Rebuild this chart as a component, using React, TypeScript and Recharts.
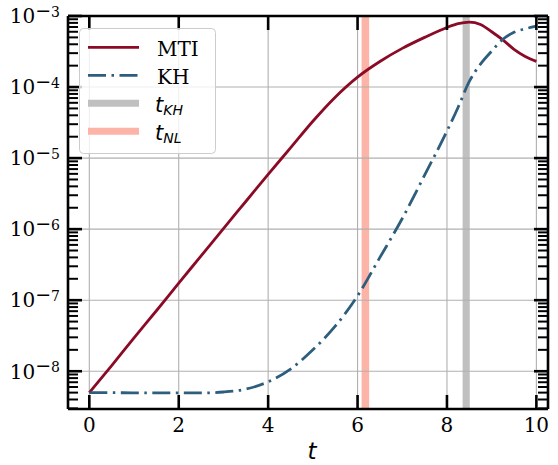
import React from 'react';
import { LineChart, Line, XAxis, YAxis, ReferenceLine, ReferenceArea, Legend } from 'recharts';

// ---- data ----
const T = [0, 0.5, 1, 1.5, 2, 2.5, 3, 3.5, 4, 4.5, 5, 5.5, 6, 6.5, 7, 7.5, 8, 8.25, 8.5, 8.75, 9, 9.25, 9.5, 9.75, 10];
const MTI = [5.0e-9, 1.2e-8, 2.95e-8, 7.1e-8, 1.74e-7, 4.2e-7, 1.02e-6, 2.45e-6, 5.9e-6, 1.39e-5, 3.3e-5, 7.2e-5, 1.38e-4, 2.29e-4, 3.5e-4, 5.0e-4, 6.9e-4, 7.8e-4, 8.2e-4, 7.6e-4, 6.0e-4, 4.6e-4, 3.4e-4, 2.7e-4, 2.3e-4];
const KH = [5.0e-9, 5.0e-9, 4.95e-9, 4.95e-9, 4.95e-9, 4.95e-9, 5.1e-9, 5.6e-9, 7.1e-9, 1.07e-8, 2.0e-8, 4.3e-8, 1.15e-7, 4.0e-7, 1.41e-6, 5.75e-6, 2.4e-5, 5.2e-5, 1.2e-4, 2.1e-4, 3.2e-4, 4.7e-4, 5.9e-4, 6.6e-4, 7.2e-4];

const T_KH_BAND = [8.35, 8.51];
const T_NL_BAND = [6.09, 6.26];

const X_TICKS = [0, 2, 4, 6, 8, 10];
const Y_MAJOR = [1e-8, 1e-7, 1e-6, 1e-5, 1e-4, 1e-3];
const X_DOMAIN = [-0.477, 10.26];
const Y_DOMAIN = [2.94e-9, 1e-3];

const LEGEND_ITEMS = ['MTI', 'KH', 't_KH', 't_NL'];
const X_LABEL = 't';

const MTI_COLOR = '#8b0a26';
const KH_COLOR = '#2d5e7d';
const GRAY_BAND = '#c0c0c0';
const SALMON_BAND = '#fcb3a8';
const GRID = '#b0b0b0';

const data = T.map((t, i) => ({ t, mti: MTI[i], kh: KH[i] }));

const Y_TICKS: number[] = (() => {
  const out: number[] = [];
  for (let k = -9; k <= -3; k++) {
    for (let m = 1; m <= 9; m++) {
      const v = m * Math.pow(10, k);
      if (v >= Y_DOMAIN[0] && v <= Y_DOMAIN[1] * 1.0000001) out.push(v);
    }
  }
  return out;
})();

const isMajor = (v: number) => Y_MAJOR.some((m) => Math.abs(v / m - 1) < 1e-6);

const LeftTick = (props: any) => {
  const { x, y, payload } = props;
  const v = payload.value;
  const major = isMajor(v);
  const exp = Math.round(Math.log10(v));
  return (
    <g>
      <line x1={x} y1={y} x2={x + (major ? 14 : 10)} y2={y} stroke="#000" strokeWidth={major ? 2.6 : 2} />
      {major && (
        <text x={x - 8} y={y + 7.3} textAnchor="end" fontFamily="DejaVu Serif" fontSize={20} fill="#000">
          10
          <tspan dy={-6.6} fontFamily="DejaVu Sans" fontSize={19}>−</tspan>
          <tspan fontFamily="DejaVu Serif" fontSize={14}>{Math.abs(exp)}</tspan>
        </text>
      )}
    </g>
  );
};

const RightTick = (props: any) => {
  const { x, y, payload } = props;
  const major = isMajor(payload.value);
  return <line x1={x} y1={y} x2={x - (major ? 14 : 10)} y2={y} stroke="#000" strokeWidth={major ? 2.6 : 2} />;
};

const BottomTick = (props: any) => {
  const { x, y, payload } = props;
  return (
    <g>
      <line x1={x} y1={y} x2={x} y2={y - 14} stroke="#000" strokeWidth={2.6} />
      <text x={x} y={y + 23} textAnchor="middle" fontFamily="DejaVu Serif" fontSize={20} fill="#000">
        {payload.value}
      </text>
    </g>
  );
};

const TopTick = (props: any) => {
  const { x, y } = props;
  return <line x1={x} y1={y} x2={x} y2={y + 14} stroke="#000" strokeWidth={2.6} />;
};

const renderLegend = () => {
  const rowY = [19.3, 47.3, 75.3, 103.3];
  return (
    <svg width={138} height={127} style={{ display: 'block' }}>
      <rect x={0.5} y={0.5} width={136} height={125} rx={4} ry={4} fill="#ffffff" fillOpacity={0.8} stroke="#cccccc" strokeWidth={1} />
      {LEGEND_ITEMS.map((name, i) => {
        const y = rowY[i];
        let sample: React.ReactNode = null;
        if (name === 'MTI') sample = <line x1={9} y1={y} x2={60} y2={y} stroke={MTI_COLOR} strokeWidth={2.8} />;
        else if (name === 'KH') sample = <line x1={9} y1={y} x2={60} y2={y} stroke={KH_COLOR} strokeWidth={2.8} strokeDasharray="18 5.5 2.5 5.5" />;
        else sample = <line x1={9} y1={y} x2={60} y2={y} stroke={name === 't_KH' ? GRAY_BAND : SALMON_BAND} strokeWidth={7} />;
        let label: React.ReactNode;
        if (name.startsWith('t_')) {
          label = (
            <text x={76} y={y + 8.7} fontFamily="DejaVu Sans" fontStyle="italic" fontSize={21} fill="#000">
              t
              <tspan dy={3} fontSize={14}>{name.slice(2)}</tspan>
            </text>
          );
        } else {
          label = (
            <text x={78} y={y + 8.7} fontFamily="DejaVu Serif" fontSize={20} fill="#000">
              {name}
            </text>
          );
        }
        return (
          <g key={name}>
            {sample}
            {label}
          </g>
        );
      })}
    </svg>
  );
};

const AXIS_LINE = { stroke: '#000', strokeWidth: 2.6 };

export default function App() {
  return (
    <div style={{ position: 'absolute', left: 0, top: 0, width: 558, height: 465, background: '#fff' }}>
      <LineChart width={558} height={465} data={data} margin={{ top: 15, right: 9, bottom: 55, left: 67 }}>
        <XAxis
          xAxisId={0}
          dataKey="t"
          type="number"
          domain={X_DOMAIN}
          allowDataOverflow
          ticks={X_TICKS}
          interval={0}
          height={1}
          tickSize={0}
          tickMargin={0}
          tick={<BottomTick />}
          tickLine={false}
          axisLine={AXIS_LINE}
        />
        <XAxis
          xAxisId="top"
          orientation="top"
          dataKey="t"
          type="number"
          domain={X_DOMAIN}
          allowDataOverflow
          ticks={X_TICKS}
          interval={0}
          height={1}
          tickSize={0}
          tickMargin={0}
          tick={<TopTick />}
          tickLine={false}
          axisLine={AXIS_LINE}
        />
        <YAxis
          yAxisId={0}
          type="number"
          scale="log"
          domain={Y_DOMAIN}
          allowDataOverflow
          ticks={Y_TICKS}
          interval={0}
          width={1}
          tickSize={0}
          tickMargin={0}
          tick={<LeftTick />}
          tickLine={false}
          axisLine={AXIS_LINE}
        />
        <YAxis
          yAxisId="right"
          orientation="right"
          type="number"
          scale="log"
          domain={Y_DOMAIN}
          allowDataOverflow
          ticks={Y_TICKS}
          interval={0}
          width={1}
          tickSize={0}
          tickMargin={0}
          tick={<RightTick />}
          tickLine={false}
          axisLine={AXIS_LINE}
        />
        {X_TICKS.map((t) => (
          <ReferenceLine key={'gx' + t} x={t} xAxisId={0} yAxisId={0} stroke={GRID} strokeWidth={1.1} />
        ))}
        {Y_MAJOR.slice(0, 5).map((v) => (
          <ReferenceLine key={'gy' + v} y={v} xAxisId={0} yAxisId={0} stroke={GRID} strokeWidth={1.1} />
        ))}
        <ReferenceArea x1={T_NL_BAND[0]} x2={T_NL_BAND[1]} xAxisId={0} yAxisId={0} fill={SALMON_BAND} fillOpacity={1} stroke="none" />
        <ReferenceArea x1={T_KH_BAND[0]} x2={T_KH_BAND[1]} xAxisId={0} yAxisId={0} fill={GRAY_BAND} fillOpacity={1} stroke="none" />
        <Line xAxisId={0} yAxisId={0} dataKey="mti" type="monotone" stroke={MTI_COLOR} strokeWidth={2.8} dot={false} isAnimationActive={false} />
        <Line xAxisId={0} yAxisId={0} dataKey="kh" type="monotone" stroke={KH_COLOR} strokeWidth={2.8} strokeDasharray="18 5.5 2.5 5.5" dot={false} isAnimationActive={false} />
        <Legend
          layout="horizontal"
          verticalAlign="middle"
          align="center"
          content={renderLegend}
          wrapperStyle={{ left: 79, top: 28, width: 138, height: 127, position: 'absolute' }}
        />
      </LineChart>
      <div
        style={{
          position: 'absolute',
          left: 0,
          top: 436,
          width: 624,
          textAlign: 'center',
          fontFamily: 'DejaVu Sans',
          fontStyle: 'italic',
          fontSize: 23,
          lineHeight: '30px',
          pointerEvents: 'none',
        }}
      >
        {X_LABEL}
      </div>
    </div>
  );
}
